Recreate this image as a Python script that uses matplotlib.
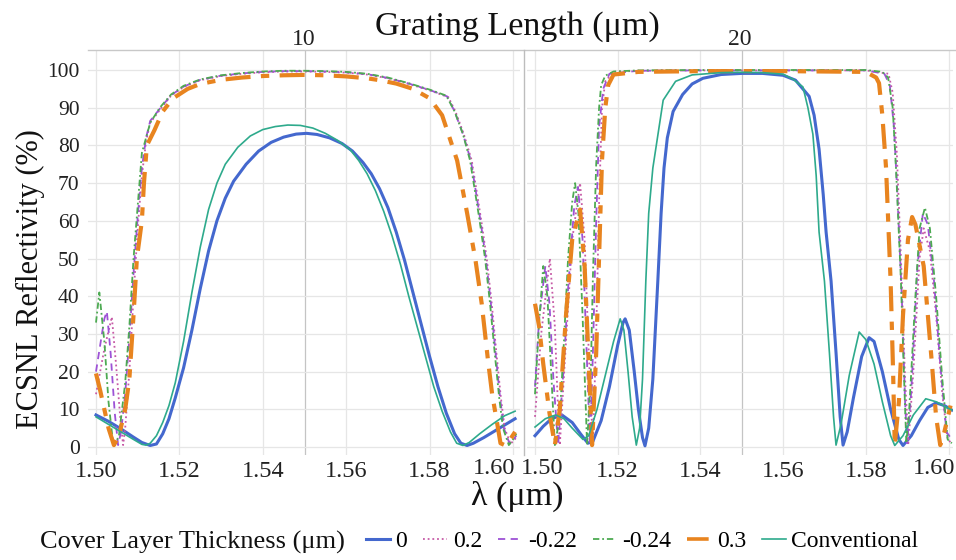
import numpy as np
import matplotlib
matplotlib.use('Agg')
import matplotlib.pyplot as plt
from matplotlib.lines import Line2D

plt.rcParams['font.family'] = ['Liberation Serif', 'DejaVu Serif']

# ---- grating length 10 um ----
wl10_0 = [1.500, 1.503, 1.506, 1.509, 1.511, 1.513, 1.5145, 1.516, 1.5175, 1.519, 1.521, 1.523, 1.525, 1.527,
          1.529, 1.531, 1.533, 1.536, 1.539, 1.542, 1.545, 1.548, 1.5505, 1.553, 1.556, 1.559, 1.5615, 1.564,
          1.566, 1.568, 1.570, 1.572, 1.574, 1.576, 1.578, 1.580, 1.582, 1.584, 1.586, 1.5875, 1.589, 1.5905,
          1.593, 1.596, 1.599, 1.6005]
r10_0 = [8.5, 6.8, 4.8, 2.6, 1.2, 0.4, 0.8, 3.5, 7.5, 13, 21, 31, 42, 52,
         60, 66, 70.5, 75, 78.5, 80.8, 82.2, 83, 83.2, 82.9, 82, 80.5, 78.5, 75.5,
         72.5, 68.5, 63.5, 57, 49.5, 41, 32.5, 24, 16, 9, 3.5, 1, 0.4, 1,
         2.5, 4.5, 6.5, 7.5]

wl10_conv = [1.500, 1.503, 1.506, 1.509, 1.511, 1.512, 1.513, 1.5145, 1.516, 1.5175, 1.519, 1.521, 1.523, 1.525,
             1.527, 1.529, 1.531, 1.534, 1.537, 1.540, 1.543, 1.546, 1.549, 1.552, 1.555, 1.558, 1.561, 1.563,
             1.565, 1.567, 1.569, 1.571, 1.573, 1.575, 1.577, 1.579, 1.581, 1.583, 1.585, 1.5865, 1.588, 1.5895,
             1.592, 1.595, 1.598, 1.6005]
r10_conv = [8, 6, 4, 2, 0.7, 0.5, 1, 3, 6.5, 11, 17, 28, 41, 53,
            63, 70, 75, 79.5, 82.5, 84.2, 85, 85.4, 85.3, 84.6, 83.2, 81.3, 78.8, 76,
            72.5, 68, 62.5, 56, 48.5, 40, 32, 24, 16, 9.5, 4, 1, 0.4, 1.2,
            3.5, 6, 8.3, 9.5]

wl10_024 = [1.500, 1.5008, 1.502, 1.503, 1.504, 1.5045, 1.5055, 1.507, 1.508, 1.509, 1.510, 1.511, 1.513, 1.5153,
            1.518, 1.521, 1.525, 1.530, 1.535, 1.540, 1.545, 1.550, 1.555, 1.560, 1.565, 1.570, 1.575, 1.580,
            1.584, 1.586, 1.588, 1.5897, 1.591, 1.592, 1.5933, 1.5945, 1.5957, 1.5967, 1.5976, 1.599, 1.600, 1.6008]
r10_024 = [33, 41, 28, 12, 2, 0.5, 3, 17, 32, 50, 64, 78, 86, 90,
           93.5, 95.8, 97.5, 98.6, 99.2, 99.6, 99.8, 99.8, 99.7, 99.5, 99.0, 98.0, 96.5, 94.8,
           93.2, 89, 83, 76, 67, 60, 50, 38, 24, 13, 5, 0.5, 2, 3.5]

wl10_022 = [1.500, 1.501, 1.502, 1.5026, 1.5035, 1.5045, 1.5053, 1.506, 1.507, 1.508, 1.509, 1.510, 1.511, 1.512,
            1.513, 1.5155, 1.518, 1.521, 1.525, 1.530, 1.535, 1.540, 1.545, 1.550, 1.555, 1.560, 1.565, 1.570,
            1.575, 1.580, 1.5842, 1.586, 1.588, 1.5899, 1.5912, 1.5922, 1.5935, 1.5947, 1.5959, 1.5969, 1.5978,
            1.5992, 1.6008]
r10_022 = [20, 27, 34, 36, 25, 9, 0.5, 4, 14, 29, 46, 61, 74, 82,
           86.5, 90, 93.3, 95.6, 97.4, 98.5, 99.1, 99.5, 99.7, 99.7, 99.6, 99.4, 98.9, 97.9,
           96.4, 94.7, 93, 89, 83, 76, 67, 60, 50, 38, 24, 13, 5,
           0.8, 3]

wl10_02 = [1.500, 1.502, 1.5038, 1.5048, 1.5058, 1.5065, 1.507, 1.508, 1.509, 1.510, 1.511, 1.512, 1.513, 1.5157,
           1.518, 1.521, 1.525, 1.530, 1.535, 1.540, 1.545, 1.550, 1.555, 1.560, 1.565, 1.570, 1.575, 1.580,
           1.5845, 1.5862, 1.5882, 1.5901, 1.5914, 1.5924, 1.5937, 1.5949, 1.5961, 1.5971, 1.598, 1.5994, 1.6008]
r10_02 = [14, 26, 34.5, 22, 8, 0.5, 5, 20, 40, 58, 72, 81, 86, 90,
          93.2, 95.5, 97.3, 98.4, 99.0, 99.4, 99.6, 99.6, 99.5, 99.3, 98.8, 97.8, 96.3, 94.6,
          92.8, 89, 83, 76, 67, 60, 50, 38, 24, 13, 5, 0.8, 2.5]

wl10_03 = [1.500, 1.501, 1.502, 1.503, 1.5043, 1.5055, 1.507, 1.508, 1.509, 1.5098, 1.511, 1.5115, 1.5122, 1.514,
           1.516, 1.5185, 1.522, 1.525, 1.530, 1.535, 1.540, 1.545, 1.550, 1.555, 1.560, 1.565, 1.568, 1.572,
           1.576, 1.580, 1.583, 1.5866, 1.589, 1.591, 1.5925, 1.594, 1.595, 1.5964, 1.597, 1.598, 1.599, 1.6005]
r10_03 = [19.5, 15, 10, 5, 0.5, 3, 10, 18, 35, 50, 60, 70, 80, 84,
          89, 92.5, 95, 96.3, 97.4, 98.0, 98.4, 98.6, 98.7, 98.6, 98.3, 97.8, 97.3, 96.4,
          95, 92.5, 88, 76, 62, 49.6, 38, 23, 14, 5, 1, 0.5, 1.5, 4]

# ---- grating length 20 um ----
wl20_0 = [1.500, 1.502, 1.504, 1.5065, 1.509, 1.511, 1.5128, 1.514, 1.516, 1.518, 1.520, 1.5213, 1.5218, 1.5228,
          1.524, 1.525, 1.526, 1.5266, 1.5275, 1.5285, 1.5297, 1.5305, 1.5312, 1.532, 1.5334, 1.5357, 1.538,
          1.5406, 1.545, 1.550, 1.555, 1.560, 1.563, 1.5663, 1.5675, 1.5687, 1.5697, 1.5704, 1.5716, 1.5728,
          1.5738, 1.5745, 1.5755, 1.577, 1.579, 1.5808, 1.582, 1.584, 1.586, 1.588, 1.589, 1.591, 1.593, 1.595,
          1.597, 1.599, 1.6008]
r20_0 = [3, 5.5, 7.5, 8.5, 6.5, 3.5, 1, 1.5, 7, 16, 27, 33, 34, 31,
         20, 10, 2.5, 0.3, 5, 18, 44, 62, 74, 82, 89, 93.5, 96.3,
         97.8, 98.8, 99.1, 99.1, 98.6, 97.3, 93, 88, 79, 67, 57, 44, 25,
         8, 0.5, 4, 13, 24, 29, 28, 20, 10, 2, 0.4, 3, 7, 10.5,
         11.7, 11, 9.8]

wl20_conv = [1.500, 1.5025, 1.505, 1.507, 1.509, 1.5116, 1.513, 1.515, 1.517, 1.519, 1.5206, 1.5215, 1.5225, 1.5235,
             1.5245, 1.5253, 1.526, 1.5268, 1.5275, 1.5285, 1.531, 1.534, 1.538, 1.545, 1.550, 1.555, 1.560,
             1.5625, 1.5648, 1.566, 1.5672, 1.568, 1.5687, 1.570, 1.5712, 1.5722, 1.5728, 1.574, 1.576, 1.5784,
             1.580, 1.582, 1.584, 1.586, 1.587, 1.589, 1.5915, 1.5945, 1.597, 1.6008]
r20_conv = [5.3, 7.5, 8.5, 7.5, 5, 2, 3, 10, 19, 28, 34, 31, 20, 8,
            0.5, 5, 18, 44, 62, 74, 92, 97, 98.7, 99.3, 99.4, 99.3, 98.9,
            97.5, 95.5, 90, 83, 72, 57, 44, 25, 8, 0.5, 6, 19, 30.5,
            28.5, 22, 12, 3, 0.4, 3, 8.5, 12.8, 12, 9.8]

wl20_024 = [1.500, 1.501, 1.502, 1.503, 1.504, 1.5048, 1.506, 1.507, 1.508, 1.509, 1.5097, 1.5105, 1.5115, 1.5126,
            1.5135, 1.514, 1.5148, 1.5155, 1.516, 1.517, 1.519, 1.525, 1.540, 1.560, 1.580, 1.584, 1.5854, 1.5865,
            1.5873, 1.5885, 1.5892, 1.5898, 1.5905, 1.592, 1.593, 1.5943, 1.5955, 1.597, 1.5985, 1.5998, 1.6008]
r20_024 = [14, 33, 48, 40, 18, 0.5, 8, 28, 50, 65, 70, 62, 35, 0.5,
           20, 45, 75, 90, 96, 98.5, 99.6, 99.9, 100, 100, 100, 99.5, 98, 90,
           74, 44, 20, 1, 10, 40, 58, 63.5, 58, 40, 18, 2, 1]

wl20_022 = [1.500, 1.501, 1.5025, 1.5035, 1.5045, 1.5056, 1.507, 1.508, 1.5095, 1.5104, 1.5115, 1.5125, 1.5133,
            1.514, 1.5148, 1.5155, 1.5165, 1.518, 1.525, 1.540, 1.560, 1.580, 1.5845, 1.5858, 1.5868, 1.5876,
            1.5887, 1.5895, 1.590, 1.591, 1.5925, 1.5938, 1.595, 1.5965, 1.598, 1.5995, 1.6008]
r20_022 = [16, 34, 48, 38, 17, 0.5, 22, 42, 64, 69, 55, 25, 0.5,
           25, 60, 85, 95, 99, 99.8, 99.9, 99.9, 99.9, 99, 96, 85, 68,
           40, 12, 1, 15, 48, 62, 59, 44, 22, 4, 2]

wl20_02 = [1.500, 1.5015, 1.5036, 1.5048, 1.5055, 1.506, 1.5075, 1.509, 1.5109, 1.512, 1.513, 1.514, 1.5148,
           1.5155, 1.5162, 1.517, 1.519, 1.525, 1.540, 1.560, 1.580, 1.5855, 1.5865, 1.5875, 1.5885, 1.5895,
           1.5903, 1.5915, 1.593, 1.594, 1.5955, 1.597, 1.5985, 1.5998, 1.6008]
r20_02 = [8, 30, 50, 32, 12, 0.5, 28, 55, 70, 55, 25, 0.5, 30,
          65, 90, 97, 99.5, 99.8, 99.9, 99.9, 99.9, 99, 94, 78, 50, 18,
          1, 20, 50, 58, 52, 35, 14, 2, 1]

wl20_03 = [1.500, 1.501, 1.502, 1.5035, 1.5048, 1.506, 1.5075, 1.509, 1.5109, 1.512, 1.513, 1.5138, 1.5148,
           1.5162, 1.517, 1.5177, 1.519, 1.525, 1.540, 1.560, 1.580, 1.5825, 1.5832, 1.584, 1.5849, 1.586,
           1.5866, 1.587, 1.588, 1.589, 1.5902, 1.5912, 1.592, 1.594, 1.596, 1.597, 1.598, 1.599, 1.6005]
r20_03 = [38, 32, 22, 9, 0.5, 10, 35, 55, 63, 48, 22, 0.5, 25,
          76, 90, 96, 98.8, 99.5, 99.7, 99.7, 99.5, 98, 96.5, 88, 74, 44,
          20, 0.5, 12, 35, 55, 61, 59, 48, 22, 8, 0.5, 4, 11]

grating_lengths = ['10', '20']
labels = ['0', '0.2', '-0.22', '-0.24', '0.3', 'Conventional']
colors = ['#4468CE', '#C65AA6', '#9D52D6', '#4DAA52', '#E8841F', '#2EAA8C']
styles = ['-', (0, (1, 1.6)), (0, (4, 3)), (0, (3.5, 1.6, 1, 1.6)), (0, (6, 2.5, 2, 2.5)), '-']
widths = [2.2, 1.3, 1.3, 1.3, 3.0, 1.2]

panels = [
    [(wl10_0, r10_0), (wl10_02, r10_02), (wl10_022, r10_022), (wl10_024, r10_024), (wl10_03, r10_03), (wl10_conv, r10_conv)],
    [(wl20_0, r20_0), (wl20_02, r20_02), (wl20_022, r20_022), (wl20_024, r20_024), (wl20_03, r20_03), (wl20_conv, r20_conv)],
]
draw_order = [0, 5, 1, 2, 3, 4]

W, H = 956, 560
fig = plt.figure(figsize=(W / 100, H / 100), dpi=100)
ax_boxes = [(88, 520), (527, 953)]
one50 = [96, 535]
px_per = [4170, 4135]
top_px, bot_px = 50, 455
xt = np.arange(1.50, 1.601, 0.02)

for i, (x0, x1) in enumerate(ax_boxes):
    ax = fig.add_axes([x0 / W, 1 - bot_px / H, (x1 - x0) / W, (bot_px - top_px) / H])
    for k in draw_order:
        wl, r = panels[i][k]
        ax.plot(wl, r, color=colors[k], linestyle=styles[k], linewidth=widths[k], zorder=3 + k * 0.1)
    ax.set_xlim(1.5 - (one50[i] - x0) / px_per[i], 1.5 + (x1 - one50[i]) / px_per[i])
    ax.set_ylim(-(bot_px - 447) / 3.77, (447 - top_px) / 3.77)
    ax.set_xticks(xt)
    names = ['%.2f' % v for v in xt]
    # edge labels are drawn separately, aligned to the panel edges
    names[-1] = ''
    if i == 1:
        names[0] = ''
    ax.set_xticklabels(names)
    ax.set_yticks(np.arange(0, 101, 10))
    ax.grid(True, color='#e6e6e6', linewidth=0.9, zorder=0)
    ax.axvline(1.55, color='#c4c4c4', linewidth=0.9, zorder=1)
    for s in ax.spines.values():
        s.set_visible(False)
    ax.tick_params(axis='y', length=0, labelsize=15.5, pad=6, colors='#222222')
    ax.tick_params(axis='x', length=0, labelsize=17.5, pad=4, colors='#222222')
    if i == 1:
        ax.tick_params(labelleft=False)
    ax.set_title(grating_lengths[i], fontsize=17, pad=1, color='#222222')

tick_y = 1 - 469 / H
fig.text(515 / W, tick_y, '1.60', ha='right', va='center', fontsize=17.5, color='#222222')
fig.text(521 / W, tick_y, '1.50', ha='left', va='center', fontsize=17.5, color='#222222')
fig.text(955 / W, tick_y, '1.60', ha='right', va='center', fontsize=17.5, color='#222222')

# header line, panel separator
fig.add_artist(Line2D([88 / W, 1.0], [1 - top_px / H] * 2, color='#c8c8c8', linewidth=1))
fig.add_artist(Line2D([524 / W] * 2, [1 - top_px / H, 1 - 455 / H], color='#bdbdbd', linewidth=1))

fig.text(517 / W, 1 - 27 / H, 'Grating Length (\u03bcm)', ha='center', va='center', fontsize=24.5, color='#111111')
fig.text(517 / W, 1 - 496 / H, '\u03bb (\u03bcm)', ha='center', va='center', fontsize=24.5, color='#111111')
fig.text(30 / W, 1 - 279 / H, 'ECSNL Reflectivity (%)', ha='center', va='center', rotation=90,
         fontsize=22, color='#111111')

fig.text(40 / W, 1 - 542 / H, 'Cover Layer Thickness (\u03bcm)', ha='left', va='center', fontsize=19,
         color='#111111')
handles = [Line2D([], [], color=colors[k], linestyle=styles[k], linewidth=min(widths[k], 2.6)) for k in range(6)]
fig.legend(handles, labels, loc='center left', bbox_to_anchor=(366 / W, 1 - 541 / H), ncol=6, frameon=False,
           prop={'family': 'Liberation Serif', 'size': 17}, handlelength=1.0, handletextpad=0.25,
           columnspacing=0.68, borderpad=0, borderaxespad=0)

fig.savefig('out.png', dpi=100)
